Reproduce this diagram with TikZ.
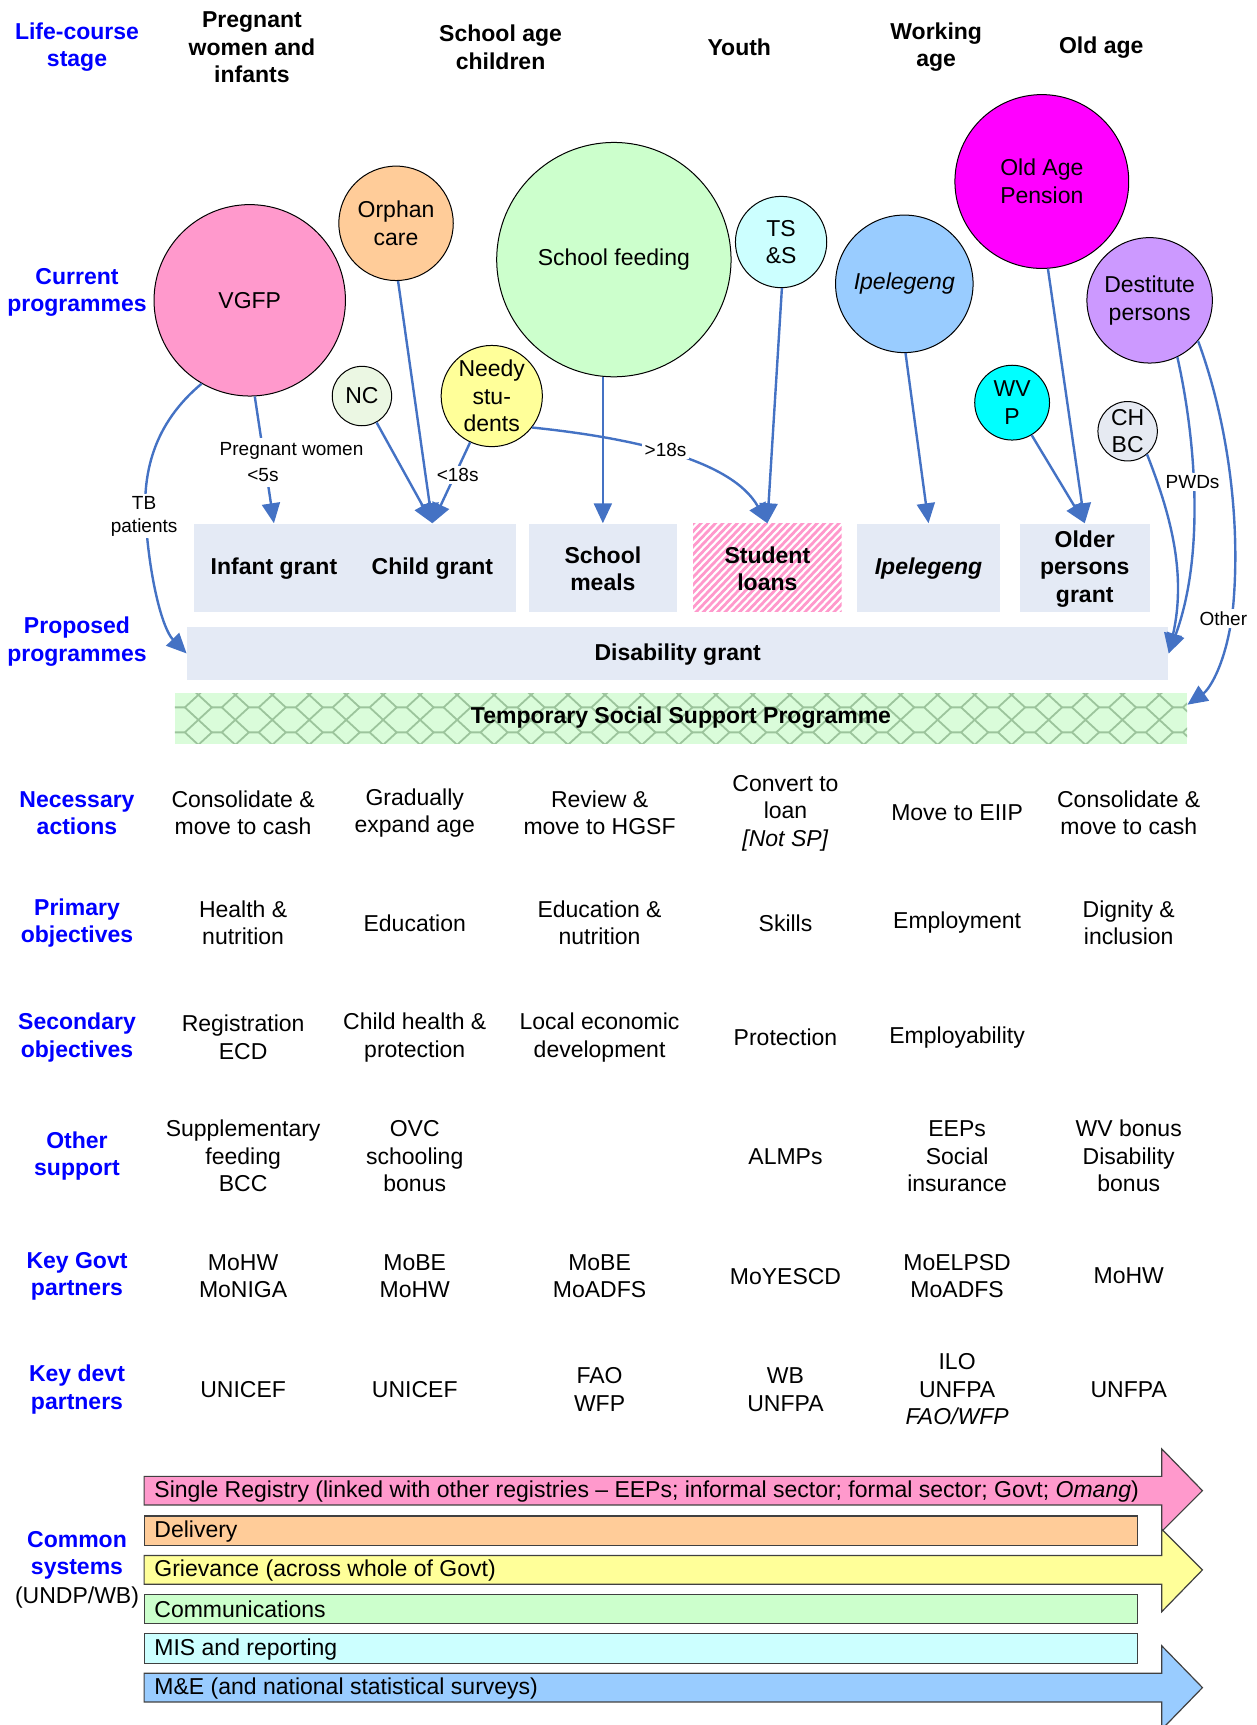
\documentclass[tikz,border=0pt]{standalone}
\usepackage{fontspec}
\setmainfont{Liberation Sans}
\usetikzlibrary{arrows.meta}
\definecolor{arrowblue}{HTML}{4472C4}
\definecolor{sideblue}{HTML}{0000FF}
\definecolor{boxfill}{HTML}{E4EAF5}
\definecolor{cpink}{HTML}{FF99CC}
\definecolor{corange}{HTML}{FFCC99}
\definecolor{cpalegreen}{HTML}{EBF7E3}
\definecolor{cyellow}{HTML}{FFFF99}
\definecolor{cgreen}{HTML}{CCFFCC}
\definecolor{ccyanlight}{HTML}{CCFFFF}
\definecolor{cblue}{HTML}{99CCFF}
\definecolor{cmagenta}{HTML}{FF00FF}
\definecolor{cviolet}{HTML}{CC99FF}
\definecolor{ccyan}{HTML}{00FFFF}
\definecolor{cgrey}{HTML}{E6EAF2}
\definecolor{tsspfill}{HTML}{DAFCDA}
\definecolor{tsspline}{HTML}{9CC49C}
\begin{document}
\begin{tikzpicture}[x=0.55pt, y=-0.55pt,
 txt/.style={align=center, inner sep=0pt, font=\fontsize{11.5}{13.75}\selectfont},
 boldtxt/.style={align=center, inner sep=0pt, font=\fontsize{11.5}{13.75}\selectfont\bfseries},
 side/.style={boldtxt, text=sideblue},
 lbl/.style={align=center, inner sep=1.2pt, fill=white, font=\fontsize{9.5}{11.5}\selectfont},
 circ/.style={circle, draw=black, line width=0.5pt, inner sep=0pt, minimum size={#1*1.1pt}},
 pbox/.style 2 args={rectangle, draw=none, fill=boxfill, inner sep=0pt, minimum width={#1*0.55pt}, minimum height={#2*0.55pt}},
 arr/.style={draw=arrowblue, line width=1.2pt, -{Triangle[width=9pt,length=10pt]}},
 barshape/.style={draw=black!75, line width=0.6pt},
 bartxt/.style={anchor=west, inner sep=0pt, font=\fontsize{11.5}{13.75}\selectfont}
]
\useasboundingbox (0,0) rectangle (1142,1568);

% ---------- header row ----------
\node[side] (hlife) at (70,43) {Life-course\\stage};
\node[boldtxt] (hpreg) at (229,43) {Pregnant\\women and\\infants};
\node[boldtxt] (hschool) at (455,43) {School age\\children};
\node[boldtxt] (hyouth) at (672,43) {Youth};
\node[boldtxt] (hwork) at (851,43) {Working\\age};
\node[boldtxt] (hold) at (1001,43) {Old age};

% ---------- side labels ----------
\node[side] (scur) at (70,266) {Current\\programmes};
\node[side] (sprop) at (70,583) {Proposed\\programmes};
\node[side] (snec) at (70,739) {Necessary\\actions};
\node[side] (sprim) at (70,839) {Primary\\objectives};
\node[side] (ssec) at (70,943) {Secondary\\objectives};
\node[side] (soth) at (70,1051) {Other\\support};
\node[side] (sgov) at (70,1160) {Key Govt\\partners};
\node[side] (sdev) at (70,1263) {Key devt\\partners};
\node[side] (scom) at (70,1414) {Common\\systems};
\node[txt] (sundp) at (70,1452) {(UNDP/WB)};

% ---------- current programmes (circles) ----------
\node[circ=87, fill=cpink] (vgfp) at (227,273) {};
\node[txt] (tvgfp) at (vgfp) {VGFP};
\node[circ=52, fill=corange] (orphan) at (360,203) {};
\node[txt] (torphan) at (orphan) {Orphan\\care};
\node[circ=27, fill=cpalegreen] (nc) at (329,360) {};
\node[txt] (tnc) at (nc) {NC};
\node[circ=46, fill=cyellow] (needy) at (447,360) {};
\node[txt] (tneedy) at (needy) {Needy\\stu-\\dents};
\node[circ=106.5, fill=cgreen] (sfeed) at (558,236) {};
\node[txt] (tsfeed) at (sfeed) {School feeding};
\node[circ=41.5, fill=ccyanlight] (tss) at (710,220) {};
\node[txt] (ttss) at (tss) {TS\\\&S};
\node[circ=62.5, fill=cblue] (ipel) at (822,258) {};
\node[txt, font=\fontsize{11.5}{13.75}\selectfont\itshape] (tipel) at (ipel) {Ipelegeng};
\node[circ=79, fill=cmagenta] (oap) at (947,165) {};
\node[txt] (toap) at (oap) {Old Age\\Pension};
\node[circ=57, fill=cviolet] (dest) at (1045,273) {};
\node[txt] (tdest) at (dest) {Destitute\\persons};
\node[circ=34, fill=ccyan] (wvp) at (920,366) {};
\node[txt] (twvp) at (wvp) {WV\\P};
\node[circ=27, fill=cgrey] (chbc) at (1025,392) {};
\node[txt] (tchbc) at (chbc) {CH\\BC};

% ---------- proposed programmes ----------
\node[pbox={293}{80}] (icbox) at (322.5,516) {};
\node[boldtxt] (infant) at (249,517) {Infant grant};
\node[boldtxt] (child) at (393,517) {Child grant};
\node[pbox={134}{80}] (smeals) at (548,516) {};
\node[boldtxt] (tsmeals) at (548,517) {School\\meals};
\node[pbox={135}{80}, fill=white] (sloans) at (697.5,516) {};
\begin{scope}
\clip (630,476) rectangle (765,556);
\foreach \k in {0,...,34} \draw[cpink, line width=1.4pt] ({550+\k*6.6},560) -- ({634+\k*6.6},472);
\end{scope}
\node[boldtxt] (tsloans) at (697.5,517) {Student\\loans};
\node[pbox={130}{80}] (ipbox) at (844,516) {};
\node[boldtxt, font=\fontsize{11.5}{13.75}\selectfont\bfseries\itshape] (tipbox) at (844,517) {Ipelegeng};
\node[pbox={118}{80}] (opg) at (986,516) {};
\node[boldtxt] (topg) at (986,517) {Older\\persons\\grant};
\node[pbox={892}{48}] (disab) at (616,594) {};
\node[boldtxt] (tdisab) at (616,595) {Disability grant};
\node[pbox={920}{46}, fill=tsspfill] (tssp) at (619,653) {};
\begin{scope}
\clip (159,630) rectangle (1079,676);
\foreach \r in {620.3,643,665.7,688.4} \foreach \c in {0,...,27} {
  \pgfmathsetmacro\xo{159+\c*33.6}
  \draw[tsspline, line width=0.9pt, line join=round] (\xo,\r) -- ({\xo+9},\r) -- ({\xo+21.3},{\r-11.35}) -- ({\xo+33.6},\r) -- ({\xo+21.3},{\r+11.35}) -- ({\xo+9},\r);
}
\end{scope}
\node[boldtxt] (ttssp) at (619,652) {Temporary Social Support Programme};

% ---------- connectors ----------
\draw[arr] (vgfp.-87) -- (infant |- icbox.north);
\draw[arr] (orphan.-88) -- (child |- icbox.north);
\draw[arr] (nc) -- (child |- icbox.north);
\draw[arr] (needy) -- (child |- icbox.north);
\draw[arr] (sfeed.south -| smeals) -- (smeals.north);
\draw[arr] (tss.-89) -- (sloans.north);
\draw[arr] (needy.-38) .. controls (575,398) and (665,418) .. (sloans.north);
\draw[arr] (ipel.-89) -- (ipbox.north);
\draw[arr] (oap.-86) -- (opg.north);
\draw[arr] (wvp) -- (opg.north);
\draw[arr] (vgfp.240) .. controls (140,385) and (128,430) .. (133,480) .. controls (137,530) and (148,572) .. (disab.west);
\draw[arr] (chbc.-50) .. controls (1063,465) and (1079,520) .. (disab.east);
\draw[arr] (dest.-64) .. controls (1085,390) and (1097,500) .. (disab.east);
\coordinate (otherend) at ([yshift=-6pt]tssp.north east);
\draw[arr] (dest.-40) .. controls (1115,380) and (1128,470) .. (1121,550) .. controls (1116,600) and (1100,626) .. (otherend);

% connector labels
\node[lbl, inner ysep=2.5pt] (lpreg) at (265,410) {Pregnant women};
\node[lbl, inner ysep=2.5pt] (l5s) at (239,432) {<5s};
\node[lbl] (ltb) at (131,469) {TB\\patients};
\node[lbl] (l18a) at (416,432) {<18s};
\node[lbl] (l18b) at (605,409) {>18s};
\node[lbl] (lpwd) at (1084,438) {PWDs};
\node[lbl] (lother) at (1112,562) {Other};

% ---------- table ----------
\node[txt] (a1) at (221,739) {Consolidate \&\\move to cash};
\node[txt] (a2) at (377,739) {Gradually\\expand age};
\node[txt] (a3) at (545,739) {Review \&\\move to HGSF};
\node[txt] (a4) at (714,739) {Convert to\\loan\\\textit{[Not SP]}};
\node[txt] (a5) at (870,739) {Move to EIIP};
\node[txt] (a6) at (1026,739) {Consolidate \&\\move to cash};

\node[txt] (p1) at (221,839) {Health \&\\nutrition};
\node[txt] (p2) at (377,839) {Education};
\node[txt] (p3) at (545,839) {Education \&\\nutrition};
\node[txt] (p4) at (714,839) {Skills};
\node[txt] (p5) at (870,839) {Employment};
\node[txt] (p6) at (1026,839) {Dignity \&\\inclusion};

\node[txt] (s1) at (221,943) {Registration\\ECD};
\node[txt] (s2) at (377,943) {Child health \&\\protection};
\node[txt] (s3) at (545,943) {Local economic\\development};
\node[txt] (s4) at (714,943) {Protection};
\node[txt] (s5) at (870,943) {Employability};

\node[txt] (o1) at (221,1051) {Supplementary\\feeding\\BCC};
\node[txt] (o2) at (377,1051) {OVC\\schooling\\bonus};
\node[txt] (o4) at (714,1051) {ALMPs};
\node[txt] (o5) at (870,1051) {EEPs\\Social\\insurance};
\node[txt] (o6) at (1026,1051) {WV bonus\\Disability\\bonus};

\node[txt] (g1) at (221,1160) {MoHW\\MoNIGA};
\node[txt] (g2) at (377,1160) {MoBE\\MoHW};
\node[txt] (g3) at (545,1160) {MoBE\\MoADFS};
\node[txt] (g4) at (714,1160) {MoYESCD};
\node[txt] (g5) at (870,1160) {MoELPSD\\MoADFS};
\node[txt] (g6) at (1026,1160) {MoHW};

\node[txt] (d1) at (221,1263) {UNICEF};
\node[txt] (d2) at (377,1263) {UNICEF};
\node[txt] (d3) at (545,1263) {FAO\\WFP};
\node[txt] (d4) at (714,1263) {WB\\UNFPA};
\node[txt] (d5) at (870,1263) {ILO\\UNFPA\\\textit{FAO/WFP}};
\node[txt] (d6) at (1026,1263) {UNFPA};

% ---------- common systems ----------
\draw[barshape, fill=cpink] (131,1342) -- (1056,1342) -- (1056,1317) -- (1093,1355) -- (1056,1392) -- (1056,1368) -- (131,1368) -- cycle;
\draw[barshape, fill=corange] (131,1378) rectangle (1034,1405);
\draw[barshape, fill=cyellow] (131,1414) -- (1056,1414) -- (1056,1390) -- (1093,1427) -- (1056,1465) -- (1056,1440) -- (131,1440) -- cycle;
\draw[barshape, fill=cgreen] (131,1449) rectangle (1034,1476);
\draw[barshape, fill=ccyanlight] (131,1485) rectangle (1034,1512);
\draw[barshape, fill=cblue] (131,1521) -- (1056,1521) -- (1056,1496) -- (1093,1534) -- (1056,1572) -- (1056,1547) -- (131,1547) -- cycle;
\node[bartxt] (c1) at (140,1356) {Single Registry (linked with other registries – EEPs; informal sector; formal sector; Govt; \textit{Omang})};
\node[bartxt] (c2) at (140,1392) {Delivery};
\node[bartxt] (c3) at (140,1428) {Grievance (across whole of Govt)};
\node[bartxt] (c4) at (140,1463) {Communications};
\node[bartxt] (c5) at (140,1499) {MIS and reporting};
\node[bartxt] (c6) at (140,1535) {M\&E (and national statistical surveys)};
\end{tikzpicture}
\end{document}
